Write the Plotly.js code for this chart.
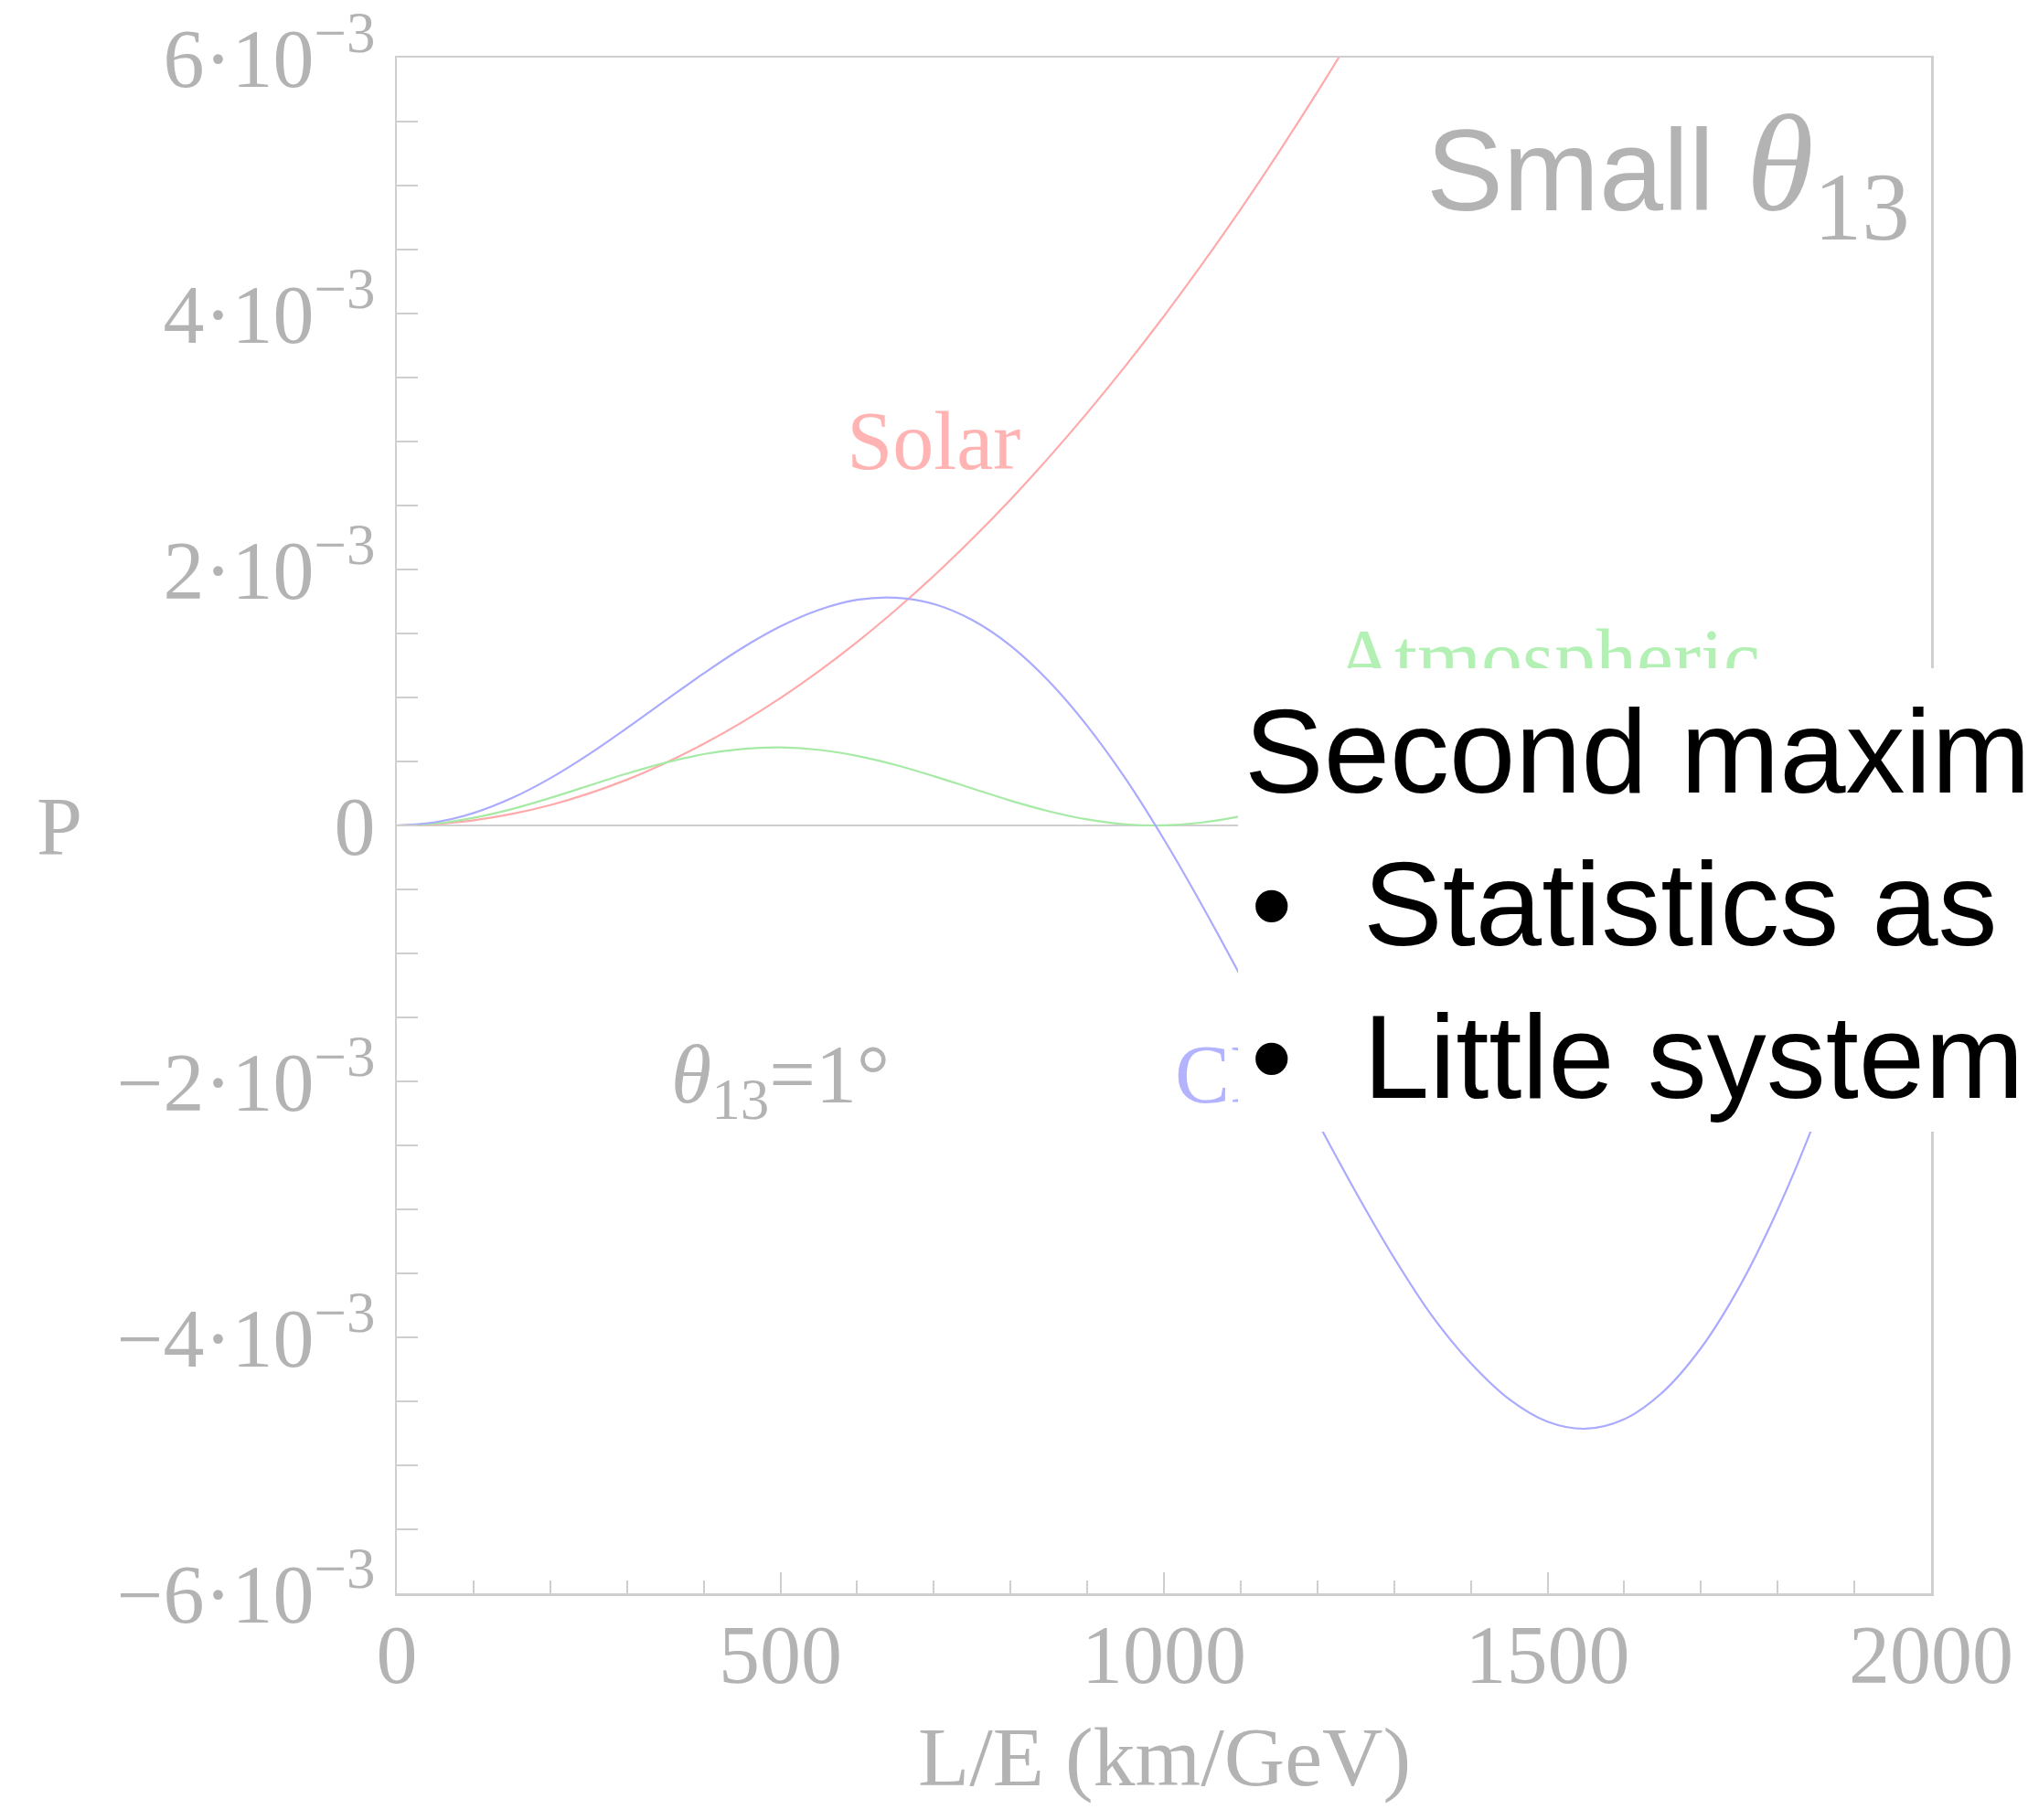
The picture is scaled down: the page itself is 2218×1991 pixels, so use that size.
<!DOCTYPE html>
<html>
<head>
<meta charset="utf-8">
<script src="https://cdn.plot.ly/plotly-3.0.1.min.js"></script>
<style>
  html, body { margin: 0; padding: 0; background: #ffffff; }
  #chart { width: 2218px; height: 1991px; }
</style>
</head>
<body>
<div id="chart"></div>
<script>
// L/E in km/GeV
const lOverE = [0, 50, 100, 150, 200, 250, 300, 350, 400, 450, 500, 550, 600, 650, 700,
  750, 800, 850, 900, 950, 1000, 1050, 1100, 1150, 1200, 1250, 1300, 1350, 1400, 1450,
  1500, 1550, 1600, 1650, 1700, 1750, 1800, 1850, 1900, 1950, 2000];

// Solar term (runs out of the frame near 1230 km/GeV)
const solarX = [0, 50, 100, 150, 200, 250, 300, 350, 400, 450, 500, 550, 600, 650, 700,
  750, 800, 850, 900, 950, 1000, 1050, 1100, 1150, 1200, 1250, 1300];
const solarP = [0, 0.010e-3, 0.040e-3, 0.090e-3, 0.159e-3, 0.249e-3, 0.358e-3, 0.488e-3,
  0.637e-3, 0.806e-3, 0.995e-3, 1.204e-3, 1.433e-3, 1.682e-3, 1.950e-3, 2.239e-3,
  2.547e-3, 2.876e-3, 3.224e-3, 3.592e-3, 3.980e-3, 4.388e-3, 4.816e-3, 5.264e-3,
  5.731e-3, 6.219e-3, 6.726e-3];

// Atmospheric term
const atmP = [0, 0.015e-3, 0.060e-3, 0.128e-3, 0.215e-3, 0.310e-3, 0.405e-3, 0.490e-3,
  0.557e-3, 0.598e-3, 0.610e-3, 0.591e-3, 0.544e-3, 0.473e-3, 0.385e-3, 0.289e-3,
  0.194e-3, 0.111e-3, 0.047e-3, 0.009e-3, 0.001e-3, 0.023e-3, 0.072e-3, 0.145e-3,
  0.234e-3, 0.331e-3, 0.426e-3, 0.510e-3, 0.569e-3, 0.603e-3, 0.608e-3, 0.583e-3,
  0.530e-3, 0.454e-3, 0.364e-3, 0.268e-3, 0.176e-3, 0.096e-3, 0.037e-3, 0.005e-3,
  0.003e-3];

// CP interference term
const cpP = [0, 0.025e-3, 0.097e-3, 0.214e-3, 0.369e-3, 0.555e-3, 0.761e-3, 0.976e-3,
  1.188e-3, 1.386e-3, 1.555e-3, 1.684e-3, 1.763e-3, 1.780e-3, 1.730e-3, 1.605e-3,
  1.405e-3, 1.127e-3, 0.778e-3, 0.365e-3, -0.109e-3, -0.628e-3, -1.179e-3, -1.746e-3,
  -2.314e-3, -2.864e-3, -3.379e-3, -3.837e-3, -4.202e-3, -4.483e-3, -4.659e-3,
  -4.714e-3, -4.640e-3, -4.429e-3, -4.084e-3, -3.606e-3, -3.003e-3, -2.285e-3,
  -1.448e-3, -0.537e-3, 0.435e-3];

// Axis ticks
const xTickVals = [0, 500, 1000, 1500, 2000];
const xTickText = ['0', '500', '1000', '1500', '2000'];
const yTickVals = [-6e-3, -4e-3, -2e-3, 0, 2e-3, 4e-3, 6e-3];
const yTickText = ['\u22126\u00b710<sup>\u22123</sup>', '\u22124\u00b710<sup>\u22123</sup>',
  '\u22122\u00b710<sup>\u22123</sup>', '0', '2\u00b710<sup>\u22123</sup>',
  '4\u00b710<sup>\u22123</sup>', '6\u00b710<sup>\u22123</sup>'];

// In-plot curve labels
const curveLabels = ['Solar', 'Atmospheric', 'CP', '<i>\u03b8</i><sub>13</sub>=1\u00b0'];
const labelX = [700, 1500, 1080, 500];
const labelY = [2.95e-3, 1.25e-3, -2.0e-3, -2.0e-3];
const labelColors = ['#ffb3b3', '#b3f0b3', '#b3b3ff', '#b3b3b3'];

// Overlaid note
const noteHeading = 'Second maxim';
const noteBullets = ['Statistics as', 'Little system'];

const GRAY = '#b3b3b3';
const AXIS = '#cfcfcf';
const SERIF = 'Liberation Serif, Times New Roman, serif';
const SANS = 'Liberation Sans, Arial, Helvetica, sans-serif';

const traces = [
  {
    x: solarX, y: solarP, type: 'scatter', mode: 'lines',
    line: { color: '#ffaaaa', width: 2.2, shape: 'spline', smoothing: 1 },
    hoverinfo: 'skip'
  },
  {
    x: lOverE, y: atmP, type: 'scatter', mode: 'lines',
    line: { color: '#a6eaa6', width: 2.2, shape: 'spline', smoothing: 1 },
    hoverinfo: 'skip'
  },
  {
    x: lOverE, y: cpP, type: 'scatter', mode: 'lines',
    line: { color: '#aaaaff', width: 2.2, shape: 'spline', smoothing: 1 },
    hoverinfo: 'skip'
  },
  {
    x: labelX, y: labelY, type: 'scatter', mode: 'text',
    text: curveLabels, textposition: 'middle center',
    textfont: { family: SERIF, size: 90, color: labelColors },
    hoverinfo: 'skip'
  }
];

// left edge of the note panel, in paper units of the plot area
const noteLeft = 0.5483;

const annotations = [
  {
    xref: 'paper', yref: 'paper', x: 0.9875, y: 0.9244, xanchor: 'right', yanchor: 'middle',
    showarrow: false,
    text: 'Small <span style="font-family:Liberation Serif;font-style:italic;font-size:150px">\u03b8</span>' +
          '<span style="font-family:Liberation Serif;font-size:150px"><sub>13</sub></span>',
    font: { family: SANS, size: 126, color: GRAY }
  },
  {
    xref: 'paper', yref: 'paper', x: -0.2199, y: 0.4994, xanchor: 'center', yanchor: 'middle',
    showarrow: false, text: 'P',
    font: { family: SERIF, size: 90, color: GRAY }
  },
  {
    xref: 'paper', yref: 'paper', x: 0.5, y: -0.1065, xanchor: 'center', yanchor: 'middle',
    showarrow: false, text: 'L/E (km/GeV)',
    font: { family: SERIF, size: 92, color: GRAY }
  },
  {
    xref: 'paper', yref: 'paper', x: 0.5515, y: 0.5485, xanchor: 'left', yanchor: 'middle',
    showarrow: false, text: noteHeading,
    font: { family: SANS, size: 130, color: '#000000' }
  }
];

const bulletY = [0.4491, 0.3497];
noteBullets.forEach(function (t, i) {
  annotations.push({
    xref: 'paper', yref: 'paper', x: 0.5705, y: bulletY[i], xanchor: 'center', yanchor: 'middle',
    showarrow: false, text: '\u2022',
    font: { family: SANS, size: 130, color: '#000000' }
  });
  annotations.push({
    xref: 'paper', yref: 'paper', x: 0.6285, y: bulletY[i], xanchor: 'left', yanchor: 'middle',
    showarrow: false, text: t,
    font: { family: SANS, size: 130, color: '#000000' }
  });
});

const layout = {
  width: 2218,
  height: 1991,
  autosize: false,
  margin: { l: 434, r: 106, t: 63, b: 248, pad: 0 },
  paper_bgcolor: '#ffffff',
  plot_bgcolor: '#ffffff',
  showlegend: false,
  xaxis: {
    range: [0, 2000],
    tickmode: 'array', tickvals: xTickVals, ticktext: xTickText,
    ticks: 'inside', ticklen: 23, tickwidth: 2, tickcolor: AXIS,
    minor: { ticks: 'inside', tick0: 0, dtick: 100, ticklen: 14, tickwidth: 2, tickcolor: AXIS, showgrid: false },
    showline: true, linecolor: AXIS, linewidth: 2.5, mirror: true,
    showgrid: false, zeroline: false,
    tickfont: { family: SERIF, size: 90, color: GRAY },
    ticklabelstandoff: -13,
    fixedrange: true
  },
  yaxis: {
    range: [-6e-3, 6e-3],
    tickmode: 'array', tickvals: yTickVals, ticktext: yTickText,
    ticks: 'inside', ticklen: 23, tickwidth: 2, tickcolor: AXIS,
    minor: { ticks: 'inside', tick0: -6e-3, dtick: 0.5e-3, ticklen: 23, tickwidth: 2, tickcolor: AXIS, showgrid: false },
    showline: true, linecolor: AXIS, linewidth: 2.5, mirror: true,
    showgrid: false,
    zeroline: true, zerolinecolor: AXIS, zerolinewidth: 2.5,
    tickfont: { family: SERIF, size: 90, color: GRAY },
    ticklabelstandoff: 3,
    fixedrange: true
  },
  shapes: [
    {
      type: 'rect', xref: 'paper', yref: 'paper', layer: 'above',
      x0: noteLeft, x1: 1.1, y0: 0.3006, y1: 0.6024,
      fillcolor: '#ffffff', line: { width: 0 }
    }
  ],
  annotations: annotations
};

Plotly.newPlot('chart', traces, layout, { staticPlot: true, displayModeBar: false });
</script>
</body>
</html>
